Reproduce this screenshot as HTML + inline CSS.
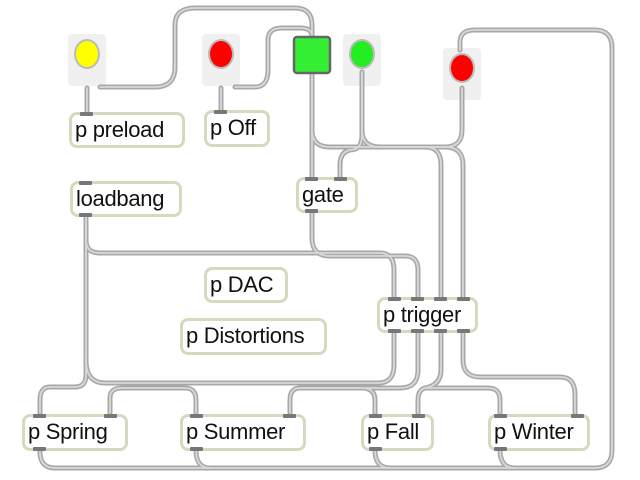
<!DOCTYPE html>
<html><head><meta charset="utf-8"><style>
body{margin:0;background:#fff;width:640px;height:480px;overflow:hidden;position:relative;font-family:"Liberation Sans",sans-serif}
svg{position:absolute;left:0;top:0}
.b{position:absolute;box-sizing:border-box;border:3px solid #d3dbbf;border-radius:8px;background:#fff;font-size:22px;line-height:30px;padding-left:3px;color:#111;white-space:nowrap;letter-spacing:-0.3px}
.p{position:absolute;width:13px;height:4px;background:#777;border-radius:1px}
.tg{position:absolute;width:38px;height:52px;background:#f0f0f0;border-radius:4px}
.c{position:absolute;width:26px;height:30px;border-radius:50%;border:2px solid #bbb;box-sizing:border-box}
</style></head><body>
<div class="tg" style="left:68px;top:34px"></div><div class="c" style="left:74px;top:39px;background:#ffff00"></div>
<div class="tg" style="left:202px;top:34px"></div><div class="c" style="left:208px;top:39px;background:#ff0000"></div>
<div class="tg" style="left:343px;top:34px"></div><div class="c" style="left:349px;top:39px;background:#22ee22"></div>
<div class="tg" style="left:443px;top:48px"></div><div class="c" style="left:449px;top:53px;background:#ff0000"></div>
<svg width="640" height="480" fill="none" stroke-linecap="round">
<defs><g id="w">
<path d="M87,88V112"/>
<path d="M100,87H155Q175,87 175,67V25Q175,8 195,8H295Q312,8 312,25V36"/>
<path d="M221,88V112"/>
<path d="M235,87H255Q268,87 268,70V40Q268,28 282,28H300Q312,28 312,36"/>
<path d="M312,72V177"/>
<path d="M312,72V130Q312,147 330,147H425Q441,147 441,165V297"/>
<path d="M362,72V135Q362,150 350,150Q340,152 340,165V177"/>
<path d="M362,72V130Q362,147 380,147H445Q463,147 463,165V297"/>
<path d="M462,88V130Q462,147 445,147H380"/>
<path d="M460,50V42Q460,30 475,30H595Q612,30 612,48V450Q612,468 595,468H55Q40,468 40,452"/>
<path d="M196,450Q196,468 210,468M375,450Q375,468 390,468M500,450Q500,468 515,468"/>
<path d="M312,213V238Q312,256 330,256H405Q418,256 418,270V297"/>
<path d="M86,217V240Q86,253 100,253H380Q394,253 394,270V297"/>
<path d="M86,217V375Q86,387 75,387H50Q40,387 40,400V413"/>
<path d="M86,360Q86,383 105,383H378Q394,383 394,365V333"/>
<path d="M110,413V398Q110,388 122,388H185Q196,388 196,400V413"/>
<path d="M418,333V370Q418,388 400,388H300Q290,388 290,400V413"/>
<path d="M375,413V400Q375,390 365,388H300"/>
<path d="M441,333V370Q441,385 425,388Q418,390 418,400V413"/>
<path d="M500,413V400Q500,388 488,388H425"/>
<path d="M463,333V360Q463,377 480,377H560Q575,377 575,395V413"/>
</g></defs>
<use href="#w" stroke="#a8a8a8" stroke-width="5"/>
<use href="#w" stroke="#d8d8d8" stroke-width="1.8"/>
<rect x="294" y="37" width="36" height="36" rx="3" fill="#33ee33" stroke="#666" stroke-width="2.5"/>
</svg>
<div class="b" style="left:69px;top:112px;width:116px;height:36px">p preload</div>
<div class="b" style="left:204px;top:110px;width:66px;height:37px">p Off</div>
<div class="b" style="left:70px;top:181px;width:112px;height:36px">loadbang</div>
<div class="b" style="left:296px;top:177px;width:62px;height:36px">gate</div>
<div class="b" style="left:204px;top:267px;width:84px;height:36px">p DAC</div>
<div class="b" style="left:180px;top:318px;width:147px;height:37px">p Distortions</div>
<div class="b" style="left:377px;top:297px;width:101px;height:36px">p trigger</div>
<div class="b" style="left:22px;top:414px;width:106px;height:37px">p Spring</div>
<div class="b" style="left:180px;top:414px;width:126px;height:37px">p Summer</div>
<div class="b" style="left:361px;top:414px;width:73px;height:37px">p Fall</div>
<div class="b" style="left:488px;top:414px;width:102px;height:37px">p Winter</div>
<div class="p" style="left:80px;top:112px"></div>
<div class="p" style="left:214px;top:110px"></div>
<div class="p" style="left:79px;top:181px"></div><div class="p" style="left:79px;top:213px"></div>
<div class="p" style="left:305px;top:177px"></div><div class="p" style="left:334px;top:177px"></div><div class="p" style="left:305px;top:209px"></div>
<div class="p" style="left:388px;top:297px"></div><div class="p" style="left:411px;top:297px"></div><div class="p" style="left:434px;top:297px"></div><div class="p" style="left:457px;top:297px"></div>
<div class="p" style="left:388px;top:329px"></div><div class="p" style="left:411px;top:329px"></div><div class="p" style="left:434px;top:329px"></div><div class="p" style="left:457px;top:329px"></div>
<div class="p" style="left:33px;top:414px"></div><div class="p" style="left:104px;top:414px"></div><div class="p" style="left:33px;top:447px"></div>
<div class="p" style="left:190px;top:414px"></div><div class="p" style="left:283px;top:414px"></div><div class="p" style="left:190px;top:447px"></div>
<div class="p" style="left:369px;top:414px"></div><div class="p" style="left:412px;top:414px"></div><div class="p" style="left:369px;top:447px"></div>
<div class="p" style="left:494px;top:414px"></div><div class="p" style="left:571px;top:414px"></div><div class="p" style="left:494px;top:447px"></div>
</body></html>
